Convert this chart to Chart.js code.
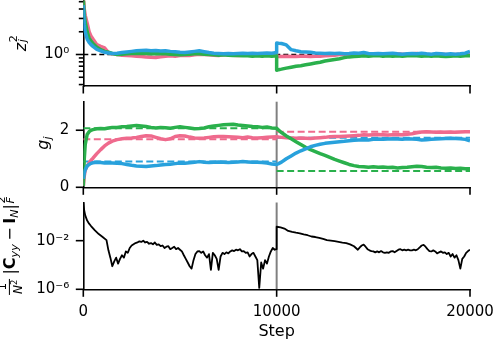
<!DOCTYPE html>
<html>
<head>
<meta charset="utf-8">
<script src="https://cdn.jsdelivr.net/npm/chart.js@4.4.0/dist/chart.umd.min.js"></script>
<style>
  body { margin: 0; background: #fff; }
  #wrap { position: relative; width: 494px; height: 342px; overflow: hidden; }
  #wrap canvas { position: absolute; left: 0; }
  .ylab { position: absolute; transform: translate(-50%, -50%) rotate(-90deg); white-space: nowrap;
          font-family: "DejaVu Sans"; font-size: 16px; line-height: 1; color: #000; }
  .ss { display: inline-block; position: relative; width: 0.5em; height: 1em; }
  .sp { position: absolute; left: 0.05em; top: -0.2em; font-size: 0.7em; }
  .sb { position: absolute; left: 0.05em; top: 0.6em; font-size: 0.7em; }
  .frac { display: inline-flex; flex-direction: column; align-items: center; font-size: 0.75em;
          vertical-align: middle; line-height: 1.05; margin-right: 3px; padding: 0 1px; }
  .frac .den { border-top: 1px solid #000; padding: 0 1px; }
  .frac sup { font-size: 0.7em; }
  .s { font-size: 0.7em; vertical-align: -0.3em; }
  .op { margin: 0 0.22em; }
</style>
</head>
<body>
<div id="wrap">
  <canvas id="zChart" width="494" height="100" style="top:0"></canvas>
  <canvas id="gChart" width="494" height="106" style="top:95px"></canvas>
  <canvas id="lossChart" width="494" height="147" style="top:195px"></canvas>
  <div class="ylab" style="left:19px; top:43px"><i>z</i><span class="ss"><span class="sp">2</span><span class="sb"><i>j</i></span></span></div>
  <div class="ylab" style="left:44px; top:143px"><i>g</i><span class="s"><i>j</i></span></div>
  <div class="ylab" style="left:10px; top:245.5px"><span class="frac"><span>1</span><span class="den"><i>N</i><sup>2</sup></span></span>|<b>C</b><span class="s"><i>yy</i></span><span class="op">−</span><b>I</b><span class="s"><i>N</i></span>|<span class="ss"><span class="sp">2</span><span class="sb"><i>F</i></span></span></div>
</div>
<script>
// training steps shared by the z and g panels (10000 twice: the switch)
const stepsA = [
  0, 50, 100, 200, 300, 400, 500, 700, 900, 1100, 1300, 1500,
  1750, 2000, 2250, 2500, 2750, 3000, 3250, 3500, 3750, 4000,
  4250, 4500, 4750, 5000, 5250, 5500, 5750, 6000, 6250, 6500,
  6750, 7000, 7250, 7500, 7750, 8000, 8250, 8500, 8750, 9000,
  9250, 9500, 9750, 10000,
  10000, 10100,
  10250, 10500, 10750, 11000, 11250, 11500, 11750, 12000, 12250, 12500,
  12750, 13000, 13250, 13500, 13750, 14000, 14250, 14500, 14750, 15000,
  15250, 15500, 15750, 16000, 16250, 16500, 16750, 17000, 17250, 17500,
  17750, 18000, 18250, 18500, 18750, 19000, 19250, 19500, 19750, 20000
];

const zPink = [
  6.0, 4.0, 3.3, 2.6, 2.0, 1.75, 1.6, 1.35, 1.28, 1.22, 1.06, 1.02,
  1.0, 0.98, 0.97, 0.96, 0.95, 0.94, 0.93, 0.92, 0.91, 0.93,
  0.95, 0.96, 0.95, 0.97, 0.98, 0.97, 0.99, 1.01, 1.0, 0.99,
  0.98, 0.97, 0.99, 1.0, 0.98, 0.97, 0.98, 0.99, 1.0, 0.98,
  0.97, 0.99, 1.0, 0.99,
  0.95, 0.94,
  0.94, 0.95, 0.94, 0.94, 0.95, 0.95, 0.94, 0.95, 0.95, 0.96,
  0.97, 0.98, 1.0, 1.01, 1.0, 1.02, 1.01, 1.0, 0.99, 1.0,
  1.01, 1.0, 0.99, 1.0, 1.02, 1.01, 1.0, 1.02, 1.03, 1.01,
  1.0, 0.99, 1.0, 1.01, 1.0, 0.99, 1.0, 1.01, 1.0, 1.02
];
const zGreen = [
  5.5, 3.4, 2.7, 2.0, 1.65, 1.5, 1.4, 1.25, 1.16, 1.1, 1.07, 1.03,
  1.0, 1.01, 1.02, 1.03, 1.03, 1.04, 1.03, 1.02, 1.02, 1.03,
  1.02, 1.01, 1.0, 0.99, 1.0, 1.01, 1.02, 1.02, 1.01, 1.0,
  0.99, 0.98, 0.99, 0.98, 0.97, 0.97, 0.96, 0.96, 0.95, 0.96,
  0.95, 0.96, 0.95, 0.96,
  0.62, 0.63,
  0.64, 0.66, 0.68, 0.70, 0.71, 0.73, 0.75, 0.77, 0.79, 0.82,
  0.84, 0.86, 0.88, 0.91, 0.93, 0.94, 0.95, 0.96, 0.95, 0.96,
  0.97, 0.95, 0.96, 0.95, 0.96, 0.95, 0.96, 0.97, 0.96, 0.95,
  0.96, 0.95, 0.96, 0.95, 0.94, 0.95, 0.96, 0.95, 0.96, 0.96
];
const zBlue = [
  4.5, 2.5, 2.0, 1.6, 1.45, 1.35, 1.28, 1.17, 1.12, 1.07, 1.05, 1.03,
  1.04, 1.06, 1.08, 1.10, 1.12, 1.13, 1.14, 1.12, 1.13, 1.11,
  1.12, 1.10, 1.09, 1.07, 1.06, 1.08, 1.10, 1.12, 1.09, 1.06,
  1.04, 1.03, 1.02, 1.03, 1.02, 1.03, 1.04, 1.03, 1.04, 1.03,
  1.04, 1.05, 1.04, 1.06,
  1.42, 1.41,
  1.40, 1.34, 1.16, 1.12, 1.09, 1.08, 1.07, 1.05, 1.04, 1.03,
  1.04, 1.03, 1.04, 1.02, 1.03, 1.05, 1.04, 1.06, 1.03, 1.02,
  1.03, 1.02, 1.03, 1.04, 1.02, 1.01, 1.02, 1.03, 1.02, 1.04,
  1.02, 1.01, 1.03, 1.02, 1.01, 1.02, 1.01, 1.02, 1.04, 1.10
];

const gPink = [
  0.05, 0.4, 0.6, 0.75, 0.85, 0.95, 1.02, 1.18, 1.32, 1.45, 1.55, 1.62,
  1.67, 1.70, 1.72, 1.73, 1.75, 1.78, 1.81, 1.80, 1.75, 1.70,
  1.67, 1.70, 1.78, 1.81, 1.80, 1.76, 1.73, 1.72, 1.73, 1.75,
  1.77, 1.78, 1.78, 1.77, 1.76, 1.75, 1.74, 1.76, 1.74, 1.73,
  1.74, 1.75, 1.76, 1.77,
  1.77, 1.76,
  1.75, 1.74, 1.73, 1.72, 1.73, 1.72, 1.71, 1.73, 1.74, 1.75,
  1.77, 1.78, 1.78, 1.79, 1.80, 1.81, 1.82, 1.84, 1.83, 1.84,
  1.85, 1.84, 1.83, 1.84, 1.85, 1.84, 1.86, 1.88, 1.91, 1.94,
  1.95, 1.94, 1.93, 1.94, 1.93, 1.94, 1.93, 1.94, 1.95, 1.95
];
const gGreen = [
  0.05, 1.0, 1.5, 1.85, 1.95, 2.0, 2.02, 2.05, 2.06, 2.05, 2.08, 2.10,
  2.10, 2.12, 2.13, 2.15, 2.17, 2.15, 2.13, 2.10, 2.08, 2.10,
  2.09, 2.07, 2.10, 2.12, 2.10, 2.08, 2.05, 2.06, 2.08, 2.12,
  2.15, 2.17, 2.19, 2.20, 2.21, 2.18, 2.17, 2.15, 2.13, 2.12,
  2.10, 2.11, 2.08, 2.07,
  2.07, 2.0,
  1.92, 1.80, 1.70, 1.60, 1.50, 1.40, 1.32, 1.25, 1.18, 1.12,
  1.05, 0.98, 0.92, 0.86, 0.80, 0.76, 0.73, 0.72, 0.70, 0.72,
  0.70, 0.71, 0.69, 0.70, 0.68, 0.69, 0.70, 0.72, 0.74, 0.73,
  0.70, 0.69, 0.70, 0.68, 0.67, 0.68, 0.66, 0.67, 0.65, 0.65
];
const gBlue = [
  0.3, 0.5, 0.62, 0.75, 0.80, 0.84, 0.86, 0.88, 0.87, 0.85, 0.86, 0.85,
  0.84, 0.83, 0.80, 0.77, 0.75, 0.74, 0.73, 0.75, 0.76, 0.78,
  0.80, 0.81, 0.83, 0.85, 0.84, 0.86, 0.88, 0.90, 0.88, 0.87,
  0.88, 0.89, 0.88, 0.87, 0.88, 0.89, 0.90, 0.89, 0.88, 0.88,
  0.87, 0.85, 0.82, 0.80,
  0.80, 0.83,
  0.88, 1.0, 1.1, 1.2, 1.28, 1.35, 1.42, 1.47, 1.51, 1.54,
  1.56, 1.58, 1.60, 1.61, 1.63, 1.65, 1.66, 1.67, 1.66, 1.68,
  1.69, 1.68, 1.69, 1.70, 1.69, 1.68, 1.70, 1.69, 1.68, 1.66,
  1.67, 1.68, 1.69, 1.70, 1.71, 1.72, 1.71, 1.70, 1.68, 1.63
];

// dashed target levels, one per phase
const targetSteps = [0, 10000, 10000, 10000, 20000];
const pinkTarget = [1.68, 1.68, null, 1.95, 1.95];
const greenTarget = [2.07, 2.07, null, 0.57, 0.57];
const blueTarget = [0.90, 0.90, null, 1.74, 1.74];
const unitSteps = [0, 20000];
const unitLevel = [1, 1];

// normalised covariance error
const stepsC = [
  0, 50, 100, 200, 300, 400, 600, 800, 1000,
  1200, 1300, 1400, 1500, 1600, 1700, 1800, 1900, 2000, 2100,
  2200, 2300, 2400, 2500, 2600, 2700, 2800, 2900, 3000, 3100,
  3200, 3300, 3400, 3500, 3600, 3700, 3800, 3900, 4000, 4100,
  4200, 4300, 4400, 4500, 4600, 4700, 4800, 4900, 5000, 5100,
  5200, 5300, 5400, 5500, 5600, 5700, 5800, 5900, 6000, 6100,
  6200, 6300, 6400, 6500, 6600, 6700, 6800, 6900, 7000, 7100,
  7200, 7300, 7400, 7500, 7600, 7700, 7800, 7900, 8000, 8100,
  8200, 8300, 8400, 8500, 8600, 8700, 8800, 8900, 9000, 9100,
  9200, 9300, 9400, 9500, 9600, 9700, 9800, 9900, 10000,
  10000, 10200, 10400, 10600, 10800, 11000, 11200, 11400, 11600, 11800,
  12000, 12200, 12400, 12600, 12800, 13000, 13200, 13400, 13600, 13800,
  14000, 14100, 14200, 14300, 14400, 14500, 14600, 14700, 14800, 14900,
  15000, 15100, 15200, 15300, 15400, 15500, 15600, 15700, 15800, 15900,
  16000, 16100, 16200, 16300, 16400, 16500, 16600, 16700, 16800, 16900,
  17000, 17100, 17200, 17300, 17400, 17500, 17600, 17700, 17800, 17900,
  18000, 18100, 18200, 18300, 18400, 18500, 18600, 18700, 18800, 18900,
  19000, 19100, 19200, 19300, 19400, 19500, 19600, 19700, 19800, 19900,
  20000
];
const lossValues = [
  1.2e1, 3e0, 1.2e0, 4.5e-1, 2.5e-1, 1.6e-1, 7e-2, 3.5e-2, 2e-2,
  1.1e-2, 1.6e-3, 4e-4, 7.9e-5, 2e-4, 4e-4, 1.3e-4, 3.2e-4, 6.3e-4, 4e-4,
  1.3e-3, 1e-3, 2.5e-3, 4e-3, 5e-3, 6.3e-3, 7.1e-3, 8.9e-3, 7.9e-3, 1e-2,
  7.1e-3, 7.9e-3, 5.6e-3, 6.3e-3, 5e-3, 7.1e-3, 4.5e-3, 5e-3, 3.5e-3, 4e-3,
  2.5e-3, 3.2e-3, 3.5e-3, 2e-3, 2.5e-3, 3.2e-3, 2e-3, 2.5e-3, 1.8e-3, 1.3e-3,
  6.3e-4, 3.2e-4, 1.6e-4, 7.9e-5, 5e-5, 2.5e-4, 7.9e-4, 1.3e-3, 1.4e-3, 1e-3,
  1.3e-3, 6.3e-4, 4e-4, 7.9e-4, 4e-5, 1e-3, 6.3e-4, 3.2e-4, 4e-5, 5e-4,
  1e-3, 7.9e-4, 1.1e-3, 8.9e-4, 1.3e-3, 1.6e-3, 1.4e-3, 1.8e-3, 1.6e-3, 2e-3,
  1.3e-3, 1.4e-3, 1e-3, 1.1e-3, 5e-4, 7.9e-4, 1e-3, 5e-4, 2.5e-4, 1.3e-6,
  1.6e-4, 5e-5, 2.5e-4, 1.3e-4, 5e-4, 1.3e-3, 2.5e-3, 1.8e-3, 2e-3,
  1.4e-1, 1.25e-1, 1e-1, 6.3e-2, 5.2e-2, 4.5e-2, 4e-2, 3.3e-2, 2.8e-2, 2.2e-2,
  2e-2, 1.7e-2, 1.4e-2, 1.1e-2, 1e-2, 9e-3, 8e-3, 7e-3, 6.3e-3, 5e-3,
  3.5e-3, 2.5e-3, 1.8e-3, 2.8e-3, 4e-3, 4.7e-3, 3.2e-3, 2e-3, 1.6e-3, 1.4e-3,
  1.3e-3, 1.1e-3, 1.3e-3, 1.1e-3, 1.4e-3, 1.1e-3, 1e-3, 1.1e-3, 1e-3, 1.3e-3,
  1.4e-3, 1.1e-3, 1.4e-3, 1.8e-3, 2e-3, 1.6e-3, 1.8e-3, 1.6e-3, 1.8e-3, 1.6e-3,
  1.6e-3, 1.8e-3, 1.6e-3, 2e-3, 2.8e-3, 4e-3, 4.5e-3, 3.2e-3, 2e-3, 1.4e-3,
  1.3e-3, 1.6e-3, 1.3e-3, 8.9e-4, 1.1e-3, 1.3e-3, 1e-3, 1.1e-3, 7.9e-4, 1e-3,
  5e-4, 7.9e-4, 4e-4, 6.3e-4, 2.5e-4, 5e-5, 3.2e-4, 5e-4, 1e-3, 1.4e-3,
  1.8e-3
];

const xTickValues = [0, 10000, 20000];
const xTickLabels = ['0', '10000', '20000'];
const zMajor = [1];
const zMinor = [0.4, 0.5, 0.6, 0.7, 0.8, 0.9, 2, 3, 4, 5];
const zLabels = ['10⁰'];
const gTicks = [0, 2];
const gLabels = ['0', '2'];
const lossTicks = [1e-6, 1e-2];
const lossLabels = ['10⁻⁶', '10⁻²'];
const switchStep = 10000;

const PINK = '#ef6a8d';
const GREEN = '#2ab04c';
const BLUE = '#28a1dc';

Chart.defaults.font.family = 'DejaVu Sans';
Chart.defaults.font.size = 15;
Chart.defaults.color = '#000';

const xy = (xs, ys) => xs.map((x, i) => ({ x: x, y: ys[i] }));

// tick marks (major + minor) and the grey switch line
function marks(major, minor, vline) {
  return {
    id: 'marks',
    beforeDatasetsDraw(chart) {
      if (vline === undefined) return;
      const { ctx, chartArea: a, scales: { x } } = chart;
      const px = x.getPixelForValue(vline);
      ctx.save();
      ctx.strokeStyle = '#808080';
      ctx.lineWidth = 2;
      ctx.beginPath(); ctx.moveTo(px, a.top); ctx.lineTo(px, a.bottom); ctx.stroke();
      ctx.restore();
    },
    afterDraw(chart) {
      const { ctx, chartArea: a, scales: { x, y } } = chart;
      const seg = (x1, y1, x2, y2) => { ctx.beginPath(); ctx.moveTo(x1, y1); ctx.lineTo(x2, y2); ctx.stroke(); };
      ctx.save();
      ctx.strokeStyle = '#000';
      ctx.lineWidth = 1.6;
      xTickValues.forEach(v => { const p = x.getPixelForValue(v); seg(p, a.bottom, p, a.bottom + 7.5); });
      major.forEach(v => { const p = y.getPixelForValue(v); seg(a.left - 7.5, p, a.left, p); });
      minor.forEach(v => { const p = y.getPixelForValue(v); seg(a.left - 4.5, p, a.left, p); });
      ctx.restore();
    }
  };
}

function xScale(showLabels, height) {
  return {
    type: 'linear', min: 0, max: 20000,
    afterBuildTicks: s => { s.ticks = xTickValues.map(v => ({ value: v })); },
    ticks: { display: showLabels, padding: 14, maxRotation: 0, autoSkip: false,
             callback: (v, i) => xTickLabels[i] },
    grid: { display: false, drawTicks: false, tickLength: 0 },
    border: { display: true, color: '#000', width: 1.6 },
    title: { display: showLabels, text: 'Step', font: { size: 16 }, padding: { top: 0, bottom: 1 } },
    afterFit: s => { s.height = height; s.paddingLeft = 0; s.paddingRight = 0; }
  };
}

function yScale(type, min, max, ticks, labels) {
  return {
    type: type, min: min, max: max,
    afterBuildTicks: s => { s.ticks = ticks.map(v => ({ value: v })); },
    ticks: { padding: 14, autoSkip: false, callback: (v, i) => labels[i] },
    grid: { display: false, drawTicks: false, tickLength: 0 },
    border: { display: true, color: '#000', width: 1.6 },
    afterFit: s => { s.width = 83.3; s.paddingTop = 0; s.paddingBottom = 0; }
  };
}

function options(x, y, top) {
  return {
    responsive: false,
    animation: false,
    layout: { padding: { left: 0, right: 24, top: top, bottom: 0 } },
    plugins: { legend: { display: false }, tooltip: { enabled: false } },
    elements: { point: { radius: 0 }, line: { tension: 0, borderJoinStyle: 'round', fill: false } },
    scales: { x: x, y: y }
  };
}

function series(xs, ys, color, width, order) {
  return { data: xy(xs, ys), borderColor: color, borderWidth: width, order: order };
}
function dashed(xs, ys, color, width, dash) {
  return { data: xy(xs, ys), borderColor: color, borderWidth: width, borderDash: dash, order: 10, spanGaps: false };
}

new Chart(document.getElementById('zChart'), {
  type: 'line',
  data: { datasets: [
    dashed(unitSteps, unitLevel, '#000', 1.6, [5, 3]),
    series(stepsA, zPink, PINK, 3.5, 3),
    series(stepsA, zGreen, GREEN, 3.5, 2),
    series(stepsA, zBlue, BLUE, 3.5, 1)
  ] },
  options: options(xScale(false, 14), yScale('logarithmic', 0.383, 5.2, zMajor, zLabels), 0.4),
  plugins: [marks(zMajor, zMinor)]
});

new Chart(document.getElementById('gChart'), {
  type: 'line',
  data: { datasets: [
    dashed(targetSteps, pinkTarget, PINK, 2, [7, 3.5]),
    dashed(targetSteps, greenTarget, GREEN, 2, [7, 3.5]),
    dashed(targetSteps, blueTarget, BLUE, 2, [7, 3.5]),
    series(stepsA, gPink, PINK, 3.5, 3),
    series(stepsA, gGreen, GREEN, 3.5, 2),
    series(stepsA, gBlue, BLUE, 3.5, 1)
  ] },
  options: options(xScale(false, 13.7), yScale('linear', 0, 3, gTicks, gLabels), 6.7),
  plugins: [marks(gTicks, [], switchStep)]
});

new Chart(document.getElementById('lossChart'), {
  type: 'line',
  data: { datasets: [
    series(stepsC, lossValues, '#000', 1.8, 1)
  ] },
  options: options(xScale(true, 52.7), yScale('logarithmic', 1e-6, 13.8, lossTicks, lossLabels), 7.5),
  plugins: [marks(lossTicks, [], switchStep)]
});
</script>
</body>
</html>
